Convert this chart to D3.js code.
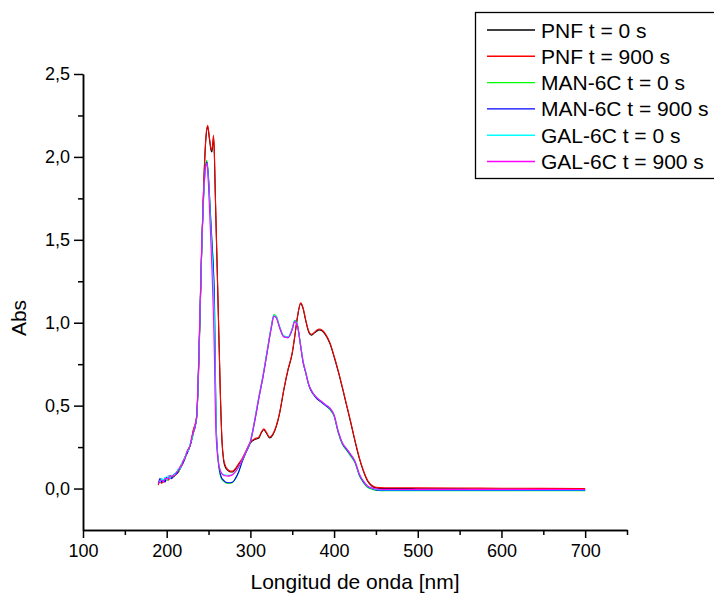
<!DOCTYPE html>
<html>
<head>
<meta charset="utf-8">
<script src="https://cdn.jsdelivr.net/npm/d3@7"></script>
<style>
  html, body { margin: 0; padding: 0; background: #fff; }
  svg { display: block; font-family: "Liberation Sans", Arial, sans-serif; }
</style>
</head>
<body>
<svg id="chart" width="714" height="597"></svg>
<script>
// ---------- DATA ----------
const seriesNames = ["PNF t = 0 s", "PNF t = 900 s", "MAN-6C t = 0 s", "MAN-6C t = 900 s", "GAL-6C t = 0 s", "GAL-6C t = 900 s"];
const seriesColors = ["#000000", "#ff0000", "#00ff00", "#0000ff", "#00ffff", "#ff00ff"];

const xTicks = [100, 200, 300, 400, 500, 600, 700];
const xMinorTicks = [150, 250, 350, 450, 550, 650, 750];
const yTicks = [0, 0.5, 1.0, 1.5, 2.0, 2.5];
const yMinorTicks = [0.25, 0.75, 1.25, 1.75, 2.25];

// wavelength grid for the PNF spectra (nm)
const wlPNF = [
  190,192,194,196,198,200,202,204,206,208,210,212,214,216,218,220,222,224,226,228,230,232,234,236,238,240,242,244,246,
  247,249,251,253,254,255,256,257,258,
  260,262,264,266,268,270,
  273,276,279,282,286,290,295,300,305,310,
  313,316,319,323,327,331,335,340,345,350,
  353,356,360,363,366,370,373,377,382,386,
  390,395,400,405,410,415,420,425,430,435,
  440,445,450,460,480,500,550,600,650,700
];
const pnf0 = [
  0.03,0.04,0.04,0.04,0.05,0.05,0.06,0.06,0.07,0.07,0.08,0.09,0.10,0.12,0.14,0.16,0.19,0.21,0.23,0.26,0.30,0.35,0.38,0.44,0.69,1.07,1.47,1.79,2.04,
  2.12,2.18,2.11,2.04,2.03,2.07,2.12,2.01,1.79,
  1.39,0.99,0.59,0.29,0.17,0.13,
  0.11,0.10,0.10,0.115,0.145,0.175,0.225,0.275,0.295,0.305,
  0.335,0.355,0.335,0.305,0.325,0.375,0.455,0.595,0.715,0.815,
  0.915,1.025,1.115,1.085,1.015,0.94,0.925,0.94,0.957,0.95,
  0.925,0.875,0.795,0.705,0.605,0.50,0.395,0.285,0.185,0.105,
  0.045,0.015,0.004,0.0,0.0,-0.001,-0.002,-0.003,-0.004,-0.005
];
const pnf900 = [
  0.02,0.05,0.03,0.05,0.04,0.06,0.05,0.07,0.06,0.08,0.08,0.10,0.11,0.13,0.15,0.17,0.19,0.22,0.24,0.26,0.31,0.36,0.39,0.45,0.70,1.08,1.48,1.80,2.05,
  2.13,2.19,2.12,2.05,2.04,2.08,2.13,2.02,1.80,
  1.40,1.00,0.60,0.30,0.18,0.14,
  0.115,0.105,0.105,0.12,0.15,0.18,0.23,0.28,0.30,0.31,
  0.34,0.36,0.34,0.31,0.33,0.38,0.46,0.60,0.72,0.82,
  0.92,1.03,1.12,1.09,1.02,0.945,0.93,0.945,0.962,0.955,
  0.93,0.88,0.80,0.71,0.61,0.505,0.40,0.29,0.19,0.11,
  0.05,0.02,0.008,0.005,0.005,0.004,0.003,0.002,0.001,0.0
];

// wavelength grid for the MAN-6C / GAL-6C spectra (nm)
const wlSugar = [
  190,192,194,196,198,200,202,204,206,208,210,212,214,216,218,220,222,224,226,228,230,232,234,236,
  238,240,242,244,246,248,250,252,254,256,
  257,258,259,260,
  262,264,266,268,270,
  273,276,279,282,286,290,295,300,305,310,
  315,320,325,328,331,335,340,345,350,353,
  356,360,363,366,370,375,380,385,390,395,
  400,405,410,415,420,425,430,435,440,445,
  450,460,480,500,550,600,650,700
];
const man0 = [
  0.04,0.05,0.06,0.04,0.06,0.05,0.07,0.07,0.08,0.07,0.09,0.10,0.10,0.12,0.15,0.16,0.18,0.21,0.24,0.26,0.29,0.33,0.38,0.43,
  0.71,1.10,1.49,1.76,1.93,1.98,1.88,1.69,1.50,1.31,
  1.15,0.76,0.41,0.27,
  0.14,0.08,0.055,0.045,0.037,
  0.032,0.032,0.038,0.058,0.10,0.16,0.22,0.28,0.41,0.55,
  0.68,0.83,0.98,1.05,1.04,0.975,0.92,0.915,0.965,1.015,
  0.99,0.865,0.765,0.70,0.62,0.57,0.54,0.52,0.50,0.475,
  0.435,0.335,0.265,0.23,0.195,0.155,0.08,0.035,0.008,-0.004,
  -0.01,-0.013,-0.013,-0.013,-0.013,-0.013,-0.013,-0.013
];
const man900 = [
  0.03,0.06,0.04,0.05,0.04,0.07,0.06,0.07,0.06,0.08,0.09,0.09,0.11,0.12,0.14,0.16,0.19,0.21,0.23,0.26,0.30,0.34,0.37,0.44,
  0.72,1.10,1.48,1.75,1.92,1.97,1.87,1.68,1.49,1.30,
  1.14,0.75,0.40,0.28,
  0.15,0.09,0.06,0.05,0.04,
  0.035,0.035,0.04,0.06,0.10,0.16,0.22,0.28,0.40,0.54,
  0.67,0.82,0.97,1.04,1.03,0.97,0.915,0.91,0.96,1.01,
  0.99,0.86,0.76,0.70,0.62,0.57,0.54,0.52,0.50,0.48,
  0.44,0.34,0.27,0.235,0.20,0.16,0.085,0.04,0.012,0.0,
  -0.008,-0.012,-0.012,-0.012,-0.012,-0.012,-0.012,-0.012
];
const gal0 = [
  0.05,0.04,0.06,0.05,0.07,0.05,0.08,0.06,0.08,0.08,0.09,0.10,0.12,0.12,0.15,0.17,0.19,0.22,0.23,0.27,0.30,0.34,0.38,0.44,
  0.71,1.09,1.47,1.74,1.91,1.96,1.85,1.64,1.43,1.20,
  1.02,0.66,0.38,0.26,
  0.16,0.11,0.09,0.085,0.082,
  0.08,0.08,0.085,0.10,0.13,0.17,0.225,0.285,0.41,0.55,
  0.68,0.83,0.975,1.045,1.035,0.975,0.92,0.915,0.965,1.01,
  0.985,0.865,0.77,0.705,0.625,0.575,0.545,0.525,0.505,0.485,
  0.445,0.345,0.275,0.24,0.205,0.165,0.09,0.045,0.015,0.002,
  -0.006,-0.009,-0.009,-0.009,-0.009,-0.009,-0.009,-0.009
];
const gal900 = [
  0.03,0.05,0.05,0.04,0.06,0.06,0.06,0.08,0.07,0.08,0.08,0.10,0.11,0.13,0.14,0.17,0.18,0.22,0.24,0.26,0.31,0.34,0.38,0.45,
  0.73,1.11,1.49,1.76,1.92,1.96,1.82,1.58,1.33,1.02,
  0.80,0.50,0.32,0.24,
  0.15,0.11,0.09,0.08,0.077,
  0.075,0.078,0.085,0.10,0.13,0.17,0.225,0.285,0.405,0.545,
  0.675,0.825,0.97,1.04,1.03,0.97,0.915,0.91,0.96,1.005,
  0.985,0.86,0.765,0.705,0.625,0.575,0.545,0.525,0.505,0.485,
  0.445,0.345,0.275,0.24,0.205,0.165,0.09,0.045,0.016,0.004,
  -0.003,-0.005,-0.005,-0.005,-0.005,-0.005,-0.005,-0.006
];

const seriesX = [wlPNF, wlPNF, wlSugar, wlSugar, wlSugar, wlSugar];
const seriesY = [pnf0, pnf900, man0, man900, gal0, gal900];

// ---------- CHART ----------
const svg = d3.select("#chart");
const x = d3.scaleLinear().domain([100, 750]).range([83, 627]);
const y = d3.scaleLinear().domain([-0.25, 2.5]).range([530, 74]);
const commaFmt = v => d3.format(".1f")(v).replace(".", ",");

// curves
const line = d3.line().x(d => x(d[0])).y(d => y(d[1])).curve(d3.curveMonotoneX);
seriesNames.forEach((name, i) => {
  const pts = seriesX[i].map((w, j) => [w, seriesY[i][j]]);
  svg.append("path")
    .datum(pts)
    .attr("fill", "none")
    .attr("stroke", seriesColors[i])
    .attr("stroke-width", 1.1)
    .attr("stroke-linejoin", "round")
    .attr("d", line);
});

// axes
function styleAxis(g) {
  g.selectAll("path, line").attr("stroke", "#000").attr("stroke-width", 1.5);
  g.selectAll("text").attr("fill", "#000").attr("font-size", 18)
    .attr("font-family", "'Liberation Sans', Arial, sans-serif");
}
svg.append("g").attr("transform", "translate(0,530)")
  .call(d3.axisBottom(x).tickValues(xTicks).tickSize(8).tickSizeOuter(0).tickPadding(6).tickFormat(d3.format("d")))
  .call(styleAxis);
svg.append("g").attr("transform", "translate(0,530)")
  .call(d3.axisBottom(x).tickValues(xMinorTicks).tickSize(5).tickSizeOuter(0).tickFormat(""))
  .call(styleAxis);
svg.append("g").attr("transform", "translate(83,0)")
  .call(d3.axisLeft(y).tickValues(yTicks).tickSize(9).tickSizeOuter(0).tickPadding(4).tickFormat(commaFmt))
  .call(styleAxis);
svg.append("g").attr("transform", "translate(83,0)")
  .call(d3.axisLeft(y).tickValues(yMinorTicks).tickSize(5).tickSizeOuter(0).tickFormat(""))
  .call(styleAxis);

// axis titles
svg.append("text")
  .attr("x", 355).attr("y", 589)
  .attr("text-anchor", "middle")
  .attr("font-size", 21)
  .text("Longitud de onda [nm]");
svg.append("text")
  .attr("transform", "translate(26,318) rotate(-90)")
  .attr("text-anchor", "middle")
  .attr("font-size", 21)
  .text("Abs");

// legend
const lg = svg.append("g");
lg.append("rect")
  .attr("x", 475.5).attr("y", 12.5)
  .attr("width", 250).attr("height", 166)
  .attr("fill", "#fff").attr("stroke", "#000").attr("stroke-width", 1.3);
seriesNames.forEach((name, i) => {
  const ry = 30 + i * 26.3;
  lg.append("line")
    .attr("x1", 487).attr("x2", 535).attr("y1", ry).attr("y2", ry)
    .attr("stroke", seriesColors[i]).attr("stroke-width", 1.4);
  lg.append("text")
    .attr("x", 541).attr("y", ry).attr("dy", "0.36em")
    .attr("font-size", 21)
    .text(name);
});
</script>
</body>
</html>
